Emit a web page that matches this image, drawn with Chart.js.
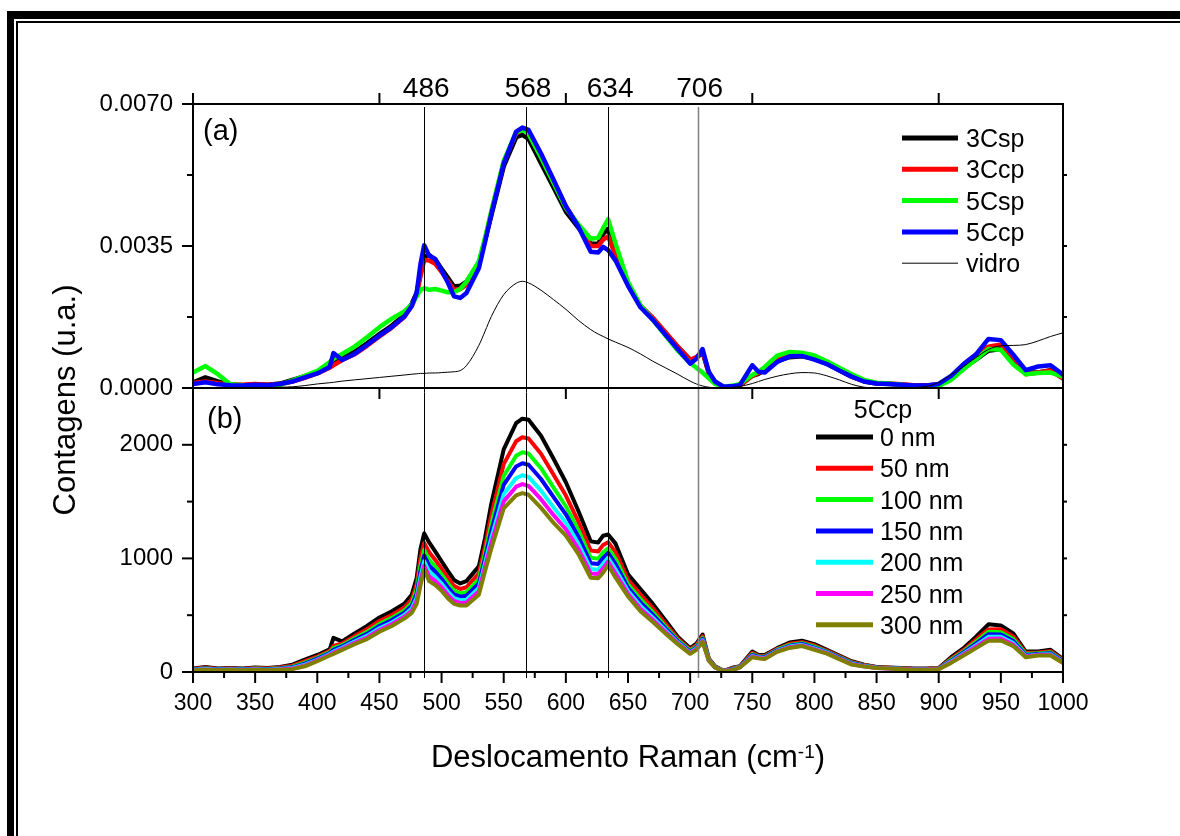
<!DOCTYPE html>
<html lang="pt">
<head>
<meta charset="utf-8">
<title>Espectros Raman</title>
<script src="https://cdn.jsdelivr.net/npm/chart.js@4.4.1/dist/chart.umd.min.js"></script>
<style>
  html, body { margin: 0; padding: 0; background: #fff; overflow: hidden; }
  #moldura { position: absolute; left: 7px; top: 11px; width: 1200px; height: 860px; border-left: 7px solid #000; border-top: 8px solid #000; }
  #moldura2 { position: absolute; left: 16px; top: 21px; width: 1200px; height: 860px; border-left: 2px solid #000; border-top: 2px solid #000; }
  #grafico { position: absolute; left: 0; top: 0; }
</style>
</head>
<body>
<div id="moldura"></div>
<div id="moldura2"></div>
<canvas id="grafico" width="1180" height="836"></canvas>
<script>
// deslocamento Raman (cm-1), comum a todos os espectros
const deslocamento = [
  300, 310, 320, 330, 340, 350, 360, 370, 380, 390,
  400, 410, 413, 420, 430, 440, 450, 460, 470, 476,
  480, 483, 486, 490, 495, 500, 505, 510, 515, 520,
  530, 535, 540, 550, 560, 565, 570, 580, 590, 600,
  610, 620, 626, 630, 634, 640, 650, 660, 670, 680,
  690, 700, 705, 710, 715, 720, 727, 735, 740, 750,
  755, 760, 770, 780, 790, 800, 810, 820, 830, 840,
  850, 860, 870, 880, 890, 900, 910, 920, 930, 940,
  950, 960, 970, 980, 990, 1000
];

// painel (a): contagens normalizadas
const a3Csp = [
  0.00014, 0.00026, 0.00016, 0.00008, 0.00007, 0.00009, 0.00008, 0.00011, 0.00020, 0.00029,
  0.00039, 0.00056, 0.00060, 0.00074, 0.00089, 0.00110, 0.00133, 0.00154, 0.00180, 0.00208,
  0.00235, 0.00280, 0.00324, 0.00328, 0.00316, 0.00294, 0.00272, 0.00250, 0.00252, 0.00262,
  0.00308, 0.00365, 0.00425, 0.00546, 0.00618, 0.00624, 0.00614, 0.00554, 0.00495, 0.00435,
  0.00395, 0.00356, 0.00355, 0.00380, 0.00392, 0.00328, 0.00255, 0.00202, 0.00172, 0.00136,
  0.00102, 0.00070, 0.00074, 0.00088, 0.00036, 0.00015, 0.00002, 0.00003, 0.00006, 0.00030,
  0.00035, 0.00044, 0.00066, 0.00076, 0.00078, 0.00072, 0.00060, 0.00044, 0.00028, 0.00016,
  0.00011, 0.00010, 0.00008, 0.00006, 0.00006, 0.00008, 0.00026, 0.00050, 0.00070, 0.00092,
  0.00096, 0.00070, 0.00039, 0.00038, 0.00044, 0.00026
];
const a3Ccp = [
  0.00012, 0.00016, 0.00012, 0.00009, 0.00008, 0.00010, 0.00008, 0.00010, 0.00016, 0.00025,
  0.00036, 0.00050, 0.00056, 0.00069, 0.00083, 0.00104, 0.00127, 0.00149, 0.00175, 0.00202,
  0.00230, 0.00275, 0.00316, 0.00314, 0.00306, 0.00286, 0.00264, 0.00242, 0.00244, 0.00254,
  0.00302, 0.00366, 0.00432, 0.00556, 0.00628, 0.00636, 0.00634, 0.00576, 0.00512, 0.00448,
  0.00400, 0.00350, 0.00350, 0.00366, 0.00374, 0.00326, 0.00258, 0.00203, 0.00173, 0.00138,
  0.00102, 0.00069, 0.00076, 0.00090, 0.00038, 0.00015, 0.00002, 0.00003, 0.00006, 0.00030,
  0.00037, 0.00045, 0.00070, 0.00079, 0.00080, 0.00073, 0.00061, 0.00044, 0.00028, 0.00017,
  0.00012, 0.00011, 0.00009, 0.00007, 0.00006, 0.00009, 0.00028, 0.00054, 0.00078, 0.00102,
  0.00107, 0.00076, 0.00034, 0.00038, 0.00043, 0.00023
];
const a5Csp = [
  0.00038, 0.00054, 0.00034, 0.00009, 0.00007, 0.00006, 0.00006, 0.00008, 0.00018, 0.00030,
  0.00042, 0.00064, 0.00072, 0.00084, 0.00102, 0.00125, 0.00150, 0.00171, 0.00189, 0.00206,
  0.00226, 0.00242, 0.00246, 0.00242, 0.00244, 0.00240, 0.00236, 0.00236, 0.00244, 0.00262,
  0.00312, 0.00370, 0.00436, 0.00560, 0.00630, 0.00636, 0.00626, 0.00568, 0.00506, 0.00444,
  0.00404, 0.00368, 0.00370, 0.00394, 0.00416, 0.00356, 0.00262, 0.00204, 0.00168, 0.00130,
  0.00092, 0.00062, 0.00050, 0.00038, 0.00024, 0.00010, 0.00003, 0.00006, 0.00010, 0.00032,
  0.00040, 0.00052, 0.00080, 0.00089, 0.00087, 0.00080, 0.00066, 0.00050, 0.00034, 0.00020,
  0.00013, 0.00011, 0.00008, 0.00005, 0.00004, 0.00005, 0.00020, 0.00046, 0.00070, 0.00096,
  0.00094, 0.00058, 0.00034, 0.00037, 0.00038, 0.00028
];
const a5Ccp = [
  0.00010, 0.00014, 0.00009, 0.00007, 0.00006, 0.00008, 0.00007, 0.00010, 0.00016, 0.00026,
  0.00036, 0.00052, 0.00086, 0.00069, 0.00084, 0.00106, 0.00129, 0.00150, 0.00176, 0.00202,
  0.00235, 0.00305, 0.00352, 0.00326, 0.00318, 0.00290, 0.00260, 0.00226, 0.00222, 0.00234,
  0.00295, 0.00360, 0.00428, 0.00553, 0.00632, 0.00642, 0.00636, 0.00578, 0.00514, 0.00448,
  0.00398, 0.00336, 0.00334, 0.00348, 0.00340, 0.00314, 0.00252, 0.00199, 0.00168, 0.00132,
  0.00096, 0.00060, 0.00072, 0.00096, 0.00040, 0.00016, 0.00003, 0.00005, 0.00007, 0.00056,
  0.00040, 0.00038, 0.00064, 0.00078, 0.00079, 0.00070, 0.00059, 0.00043, 0.00028, 0.00016,
  0.00011, 0.00010, 0.00008, 0.00006, 0.00006, 0.00010, 0.00030, 0.00059, 0.00083, 0.00121,
  0.00118, 0.00082, 0.00044, 0.00053, 0.00056, 0.00033
];
const aVidro = [
  0, 0, 0, 0, 0, 0, 0.00001, 0.00002, 0.00003, 0.00006,
  0.00010, 0.00013, 0.00014, 0.00017, 0.00020, 0.00023, 0.00026, 0.00029, 0.00032, 0.00034,
  0.00035, 0.00036, 0.00036, 0.00037, 0.00037, 0.00038, 0.00039, 0.00040, 0.00043, 0.00055,
  0.00105, 0.00140, 0.00176, 0.00230, 0.00258, 0.00263, 0.00259, 0.00241, 0.00218, 0.00194,
  0.00167, 0.00144, 0.00133, 0.00127, 0.00121, 0.00113, 0.00100, 0.00084, 0.00066, 0.00050,
  0.00034, 0.00017, 0.00010, 0.00005, 0.00002, 0, 0, 0.00002, 0.00004, 0.00011,
  0.00016, 0.00021, 0.00029, 0.00035, 0.00038, 0.00037, 0.00030, 0.00020, 0.00009, 0.00002,
  0, 0, 0, 0.00001, 0.00004, 0.00014, 0.00033, 0.00053, 0.00075, 0.00095,
  0.00104, 0.00105, 0.00107, 0.00116, 0.00127, 0.00136
];

// painel (b): amostra 5Ccp com diferentes espessuras
const b0nm = [
  30, 45, 30, 35, 30, 40, 35, 45, 65, 110,
  150, 200, 300, 270, 340, 405, 480, 535, 600, 680,
  830, 1080, 1220, 1140, 1060, 975, 890, 810, 780, 800,
  930, 1180, 1480, 1960, 2190, 2230, 2220, 2080, 1880, 1670,
  1420, 1150, 1140, 1200, 1210, 1130, 860, 730, 600, 455,
  310, 210, 250, 330, 120, 50, 10, 40, 50, 180,
  150, 150, 210, 260, 275, 245, 195, 145, 95, 65,
  45, 40, 35, 30, 30, 35, 130, 210, 310, 420,
  410, 340, 180, 180, 195, 115
];
const b50nm = [
  26, 39, 26, 31, 26, 35, 30, 39, 55, 95,
  136, 186, 230, 251, 316, 376, 449, 502, 567, 640,
  772, 1000, 1135, 1055, 986, 910, 830, 758, 731, 746,
  868, 1108, 1381, 1830, 2031, 2066, 2055, 1921, 1739, 1553,
  1325, 1070, 1061, 1119, 1143, 1055, 811, 681, 560, 426,
  294, 198, 236, 314, 115, 48, 9, 35, 48, 168,
  143, 141, 202, 248, 263, 233, 187, 137, 88, 61,
  42, 37, 32, 27, 27, 32, 118, 194, 285, 375,
  377, 312, 168, 171, 183, 106
];
const b100nm = [
  23, 34, 23, 28, 23, 31, 26, 34, 47, 83,
  125, 175, 210, 236, 297, 353, 424, 476, 541, 608,
  726, 936, 1075, 987, 927, 858, 782, 716, 692, 703,
  818, 1050, 1302, 1726, 1904, 1935, 1923, 1794, 1626, 1459,
  1249, 1006, 998, 1054, 1089, 995, 772, 642, 528, 403,
  281, 188, 225, 301, 111, 46, 8, 31, 46, 158,
  137, 134, 196, 238, 254, 223, 180, 131, 82, 57,
  40, 35, 30, 25, 25, 30, 108, 181, 265, 355,
  351, 290, 158, 164, 173, 99
];
const b150nm = [
  21, 30, 21, 26, 21, 28, 23, 30, 41, 74,
  117, 167, 195, 225, 283, 336, 405, 457, 522, 584,
  692, 888, 1025, 936, 883, 819, 746, 684, 663, 671,
  780, 1006, 1243, 1648, 1809, 1837, 1824, 1699, 1541, 1388,
  1192, 958, 951, 1005, 1048, 950, 743, 613, 504, 386,
  271, 180, 217, 291, 108, 44, 7, 28, 44, 150,
  132, 129, 191, 231, 247, 215, 175, 126, 77, 55,
  39, 34, 29, 24, 24, 29, 100, 172, 250, 333,
  331, 273, 150, 159, 165, 94
];
const b200nm = [
  19, 26, 19, 24, 19, 25, 20, 26, 35, 64,
  108, 158, 180, 213, 268, 318, 385, 436, 501, 558,
  655, 837, 975, 882, 836, 777, 708, 650, 632, 637,
  740, 960, 1180, 1565, 1707, 1732, 1718, 1597, 1451, 1313,
  1131, 907, 901, 953, 1005, 902, 712, 582, 478, 368,
  261, 172, 208, 281, 105, 42, 6, 25, 42, 142,
  127, 123, 186, 224, 239, 207, 170, 121, 72, 52,
  37, 32, 27, 22, 22, 27, 92, 161, 234, 310,
  310, 255, 142, 153, 157, 88
];
const b250nm = [
  17, 23, 17, 22, 17, 22, 17, 23, 30, 57,
  102, 152, 170, 204, 256, 304, 370, 421, 486, 539,
  628, 798, 935, 841, 800, 746, 679, 625, 608, 611,
  710, 925, 1132, 1502, 1631, 1654, 1639, 1521, 1383, 1256,
  1086, 868, 863, 914, 972, 866, 688, 558, 459, 354,
  253, 166, 202, 273, 102, 41, 6, 22, 41, 136,
  124, 119, 182, 218, 234, 201, 166, 118, 69, 50,
  36, 31, 26, 21, 21, 26, 86, 154, 222, 292,
  294, 241, 136, 149, 151, 84
];
const b300nm = [
  15, 20, 15, 20, 15, 20, 15, 20, 25, 50,
  95, 145, 160, 195, 245, 290, 355, 405, 470, 520,
  600, 760, 905, 800, 765, 715, 650, 600, 585, 585,
  680, 890, 1085, 1440, 1555, 1575, 1560, 1445, 1315, 1200,
  1040, 830, 825, 875, 940, 830, 665, 535, 440, 340,
  245, 160, 195, 265, 100, 40, 5, 20, 40, 130,
  120, 115, 178, 212, 228, 195, 162, 114, 65, 48,
  35, 30, 25, 20, 20, 25, 80, 146, 210, 275,
  278, 228, 130, 145, 145, 80
];

const nomesA = ["3Csp", "3Ccp", "5Csp", "5Ccp", "vidro"];
const coresA = ["#000000", "#ff0000", "#00ff00", "#0000ff", "#000000"];
const nomesB = ["0 nm", "50 nm", "100 nm", "150 nm", "200 nm", "250 nm", "300 nm"];
const coresB = ["#000000", "#ff0000", "#00ff00", "#0000ff", "#00ffff", "#ff00ff", "#808000"];

// bandas marcadas no topo
const picos = [486, 568, 634, 706];
const coresPicos = ["#000", "#000", "#000", "#808080"];

// marcas dos eixos (as de índice par levam número)
const ticksA = [0, 0.00175, 0.0035, 0.00525, 0.007];
const ticksB = [0, 500, 1000, 1500, 2000];

const fonte = "'Liberation Sans', Arial, Helvetica, sans-serif";
Chart.defaults.font.family = fonte;
Chart.defaults.color = "#000";

const pontos = (valores) => deslocamento.map((x, i) => ({ x, y: valores[i] }));

const seriesA = [a3Csp, a3Ccp, a5Csp, a5Ccp, aVidro];
const seriesB = [b0nm, b50nm, b100nm, b150nm, b200nm, b250nm, b300nm];

const datasetsA = seriesA.map((valores, i) => ({
    label: nomesA[i],
    data: pontos(valores),
    yAxisID: "yA",
    borderColor: coresA[i],
    borderWidth: i === 4 ? 1 : 4.5,
    cubicInterpolationMode: i === 4 ? "monotone" : "default",
    order: 4 - i,
    painel: "a"
}));

const datasetsB = seriesB.map((valores, i) => ({
    label: nomesB[i],
    data: pontos(valores),
    yAxisID: "yB",
    borderColor: coresB[i],
    borderWidth: 4,
    order: 20 - i,
    painel: "b"
}));

const traco = (ctx, x1, y1, x2, y2) => {
    ctx.beginPath();
    ctx.moveTo(x1, y1);
    ctx.lineTo(x2, y2);
    ctx.stroke();
};

const decoracao = {
    id: "decoracao",
    afterDatasetsDraw(chart) {
        const { ctx, chartArea: area } = chart;
        const { x, yA, yB } = chart.scales;
        ctx.save();

        // linhas verticais nas bandas
        picos.forEach((p, i) => {
            const px = Math.round(x.getPixelForValue(p)) + 0.5;
            ctx.strokeStyle = coresPicos[i];
            ctx.lineWidth = i === 3 ? 1.5 : 1;
            traco(ctx, px, area.top + 3, px, area.bottom + 6);
        });

        // molduras dos dois painéis
        ctx.strokeStyle = "#000";
        ctx.lineWidth = 2;
        ctx.strokeRect(area.left, area.top, area.right - area.left, area.bottom - area.top);
        traco(ctx, area.left, yA.bottom, area.right, yA.bottom);

        // marcas dos eixos y
        ticksA.forEach((v, i) => {
            const py = yA.getPixelForValue(v);
            traco(ctx, area.left - (i % 2 === 0 ? 11 : 6), py, area.left, py);
            if (i > 0 && i < ticksA.length - 1) traco(ctx, area.right, py, area.right + 4, py);
        });
        ticksB.forEach((v, i) => {
            const py = yB.getPixelForValue(v);
            traco(ctx, area.left - (i % 2 === 0 ? 11 : 6), py, area.left, py);
            if (i > 0) traco(ctx, area.right, py, area.right + 4, py);
        });

        // marcas do eixo x inferior (principais a cada 50, secundárias a cada 25)
        for (let v = 300; v <= 1000; v += 25) {
            const px = x.getPixelForValue(v);
            traco(ctx, px, area.bottom, px, area.bottom + (v % 50 === 0 ? 11 : 6));
        }
        // marcas do painel (a), em cima e embaixo
        for (let v = 300; v < 1000; v += 150) {
            const px = x.getPixelForValue(v);
            traco(ctx, px, area.top - 11, px, area.top);
            traco(ctx, px, yA.bottom, px, yA.bottom + 11);
        }
        ctx.restore();
    },
    afterDraw(chart) {
        const { ctx, chartArea: area } = chart;
        const { x, yA } = chart.scales;
        const conjuntos = chart.data.datasets;
        ctx.save();
        ctx.fillStyle = "#000";
        ctx.textBaseline = "alphabetic";
        ctx.lineCap = "butt";

        // números das bandas
        ctx.font = `28px ${fonte}`;
        ctx.textAlign = "center";
        picos.forEach((p) => ctx.fillText(String(p), x.getPixelForValue(p) + 2, area.top - 7));

        // identificação dos painéis
        ctx.font = `29px ${fonte}`;
        ctx.textAlign = "left";
        ctx.fillText("(a)", area.left + 10, area.top + 36);
        ctx.fillText("(b)", area.left + 14, yA.bottom + 40);

        // legenda do painel (a)
        ctx.font = `25px ${fonte}`;
        conjuntos.filter((d) => d.painel === "a").forEach((d, i) => {
            const y = area.top + 34 + i * 31.3;
            ctx.strokeStyle = d.borderColor;
            ctx.lineWidth = d.borderWidth > 2 ? 5 : 1;
            traco(ctx, area.right - 161, y, area.right - 105, y);
            ctx.fillText(d.label, area.right - 97, y + 9);
        });

        // legenda do painel (b)
        ctx.textAlign = "center";
        ctx.fillText("5Ccp", area.right - 180, yA.bottom + 30);
        ctx.textAlign = "left";
        conjuntos.filter((d) => d.painel === "b").forEach((d, i) => {
            const y = yA.bottom + 49 + i * 31.3;
            ctx.strokeStyle = d.borderColor;
            ctx.lineWidth = 5;
            traco(ctx, area.right - 247, y, area.right - 190, y);
            ctx.fillText(d.label, area.right - 183, y + 9);
        });

        // título do eixo x com expoente
        const centro = (area.left + area.right) / 2;
        const parte1 = "Deslocamento Raman (cm";
        const expoente = "-1";
        const parte2 = ")";
        ctx.font = `31px ${fonte}`;
        const w1 = ctx.measureText(parte1).width;
        const w3 = ctx.measureText(parte2).width;
        ctx.font = `19px ${fonte}`;
        const w2 = ctx.measureText(expoente).width;
        let xi = centro - (w1 + w2 + w3) / 2;
        const base = 767;
        ctx.font = `31px ${fonte}`;
        ctx.fillText(parte1, xi, base);
        xi += w1;
        ctx.font = `19px ${fonte}`;
        ctx.fillText(expoente, xi, base - 9);
        xi += w2;
        ctx.font = `31px ${fonte}`;
        ctx.fillText(parte2, xi, base);

        // título do eixo y
        ctx.translate(75, 400);
        ctx.rotate(-Math.PI / 2);
        ctx.textAlign = "center";
        ctx.font = `31px ${fonte}`;
        ctx.fillText("Contagens (u.a.)", 0, 0);
        ctx.restore();
    }
};

const eixoY = (marcas, extra) => Object.assign({
    type: "linear",
    position: "left",
    stack: "paineis",
    stackWeight: 1,
    grid: { display: false, drawTicks: false },
    border: { display: false },
    afterBuildTicks: (escala) => {
        escala.ticks = marcas.filter((v, i) => i % 2 === 0).map((v) => ({ value: v }));
    },
    afterFit: (escala) => { escala.width = 120; }
}, extra);

new Chart(document.getElementById("grafico").getContext("2d"), {
    type: "line",
    data: { datasets: [...datasetsA, ...datasetsB] },
    options: {
        responsive: false,
        animation: false,
        events: [],
        elements: {
            point: { radius: 0 },
            line: { tension: 0, borderJoinStyle: "round", borderCapStyle: "round", fill: false }
        },
        layout: { padding: { left: 73, right: 117, top: 104, bottom: 104 } },
        plugins: { legend: { display: false }, tooltip: { enabled: false } },
        scales: {
            x: {
                type: "linear",
                position: "bottom",
                min: 300,
                max: 1000,
                grid: { display: false, drawTicks: false },
                border: { display: false },
                ticks: {
                    stepSize: 50,
                    autoSkip: false,
                    maxRotation: 0,
                    padding: 18,
                    font: { size: 23 },
                    callback: (v) => String(v)
                },
                afterFit: (escala) => { escala.height = 60; }
            },
            yB: eixoY(ticksB, {
                weight: 0,
                min: 0,
                max: 2500,
                ticks: { padding: 20, font: { size: 24 }, callback: (v) => String(v) }
            }),
            yA: eixoY(ticksA, {
                weight: 1,
                min: 0,
                max: 0.007,
                ticks: { padding: 20, font: { size: 24 }, callback: (v) => Number(v).toFixed(4) }
            })
        }
    },
    plugins: [decoracao]
});
</script>
</body>
</html>
